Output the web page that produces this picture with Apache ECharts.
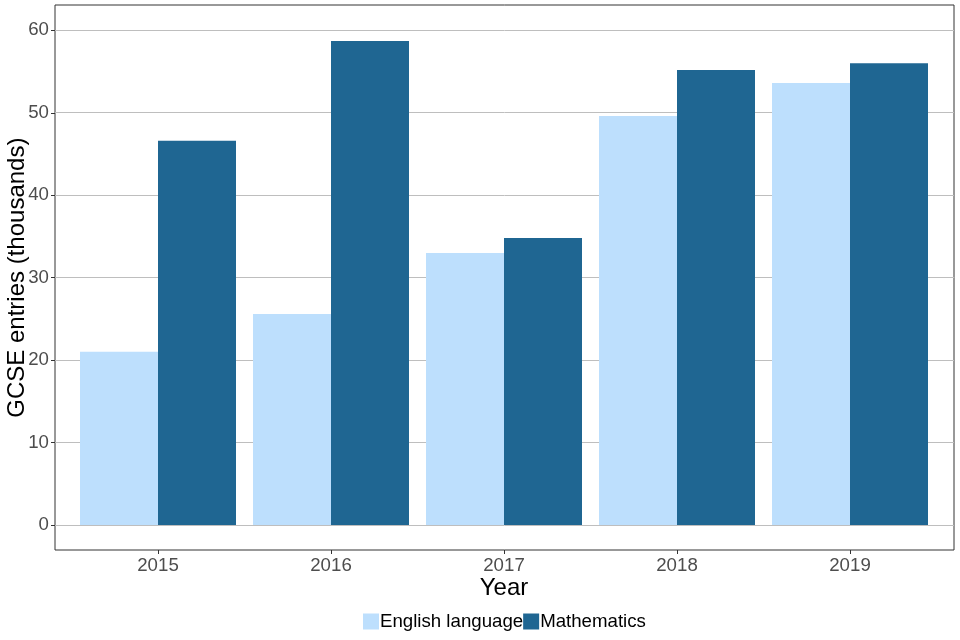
<!DOCTYPE html>
<html>
<head>
<meta charset="utf-8">
<script src="https://cdn.jsdelivr.net/npm/echarts@6/dist/echarts.min.js"></script>
<style>
html,body{margin:0;padding:0;background:#fff;}
#chart{width:960px;height:640px;}
</style>
</head>
<body>
<div id="chart"></div>
<script>
var years = ['2015', '2016', '2017', '2018', '2019'];
var english = [21.0, 25.6, 33.0, 49.6, 53.6];
var maths = [46.6, 58.7, 34.8, 55.2, 56.0];
var yTicks = [0, 10, 20, 30, 40, 50, 60];

var FONT = "'Liberation Sans', Arial, sans-serif";
var chart = echarts.init(document.getElementById('chart'), null, {renderer: 'canvas'});
chart.setOption({
  animation: false,
  backgroundColor: '#ffffff',
  textStyle: {fontFamily: FONT},
  legend: {
    data: ['English language', 'Mathematics'],
    left: 363, top: 612, padding: 0,
    itemWidth: 16, itemHeight: 16, itemGap: 0,
    icon: 'rect',
    textStyle: {fontFamily: FONT, fontSize: 18.67, color: '#000', padding: [0, 0, 0, -4]}
  },
  grid: [
    {left: 55, top: 5, right: 6, bottom: 90, show: true, borderColor: '#333333', borderWidth: 1, backgroundColor: 'transparent', containLabel: false, outerBoundsMode: 'none'},
    {left: 55, top: 30.3, right: 6, bottom: 115, containLabel: false, outerBoundsMode: 'none'},
    {left: 71.5, top: 5, right: 23.5, bottom: 90, containLabel: false, outerBoundsMode: 'none'}
  ],
  xAxis: [
    {gridIndex: 0, type: 'value', show: false},
    {gridIndex: 1, type: 'value', show: false, min: 0, max: 1},
    {gridIndex: 2, type: 'category', data: years, position: 'bottom',
     axisLine: {show: false, onZero: false},
     axisTick: {show: true, alignWithLabel: true, length: 4, lineStyle: {color: '#333333'}},
     axisLabel: {fontFamily: FONT, fontSize: 18.67, color: '#4d4d4d', margin: 6},
     name: 'Year', nameLocation: 'middle', nameGap: 26, nameMoveOverlap: false,
     nameTextStyle: {fontFamily: FONT, fontSize: 24, color: '#000'}}
  ],
  yAxis: [
    {gridIndex: 0, type: 'value', show: false},
    {gridIndex: 1, type: 'value', position: 'left', min: yTicks[0], max: yTicks[yTicks.length - 1], interval: 10,
     axisLine: {show: false, onZero: false},
     axisTick: {show: true, length: 4, lineStyle: {color: '#333333'}},
     splitLine: {show: true, lineStyle: {color: '#bebebe', width: 1}},
     axisLabel: {fontFamily: FONT, fontSize: 18.67, color: '#4d4d4d', margin: 6},
     name: 'GCSE entries (thousands)', nameLocation: 'middle', nameGap: 26, nameRotate: 90, nameMoveOverlap: false,
     nameTextStyle: {fontFamily: FONT, fontSize: 24, color: '#000'}},
    {gridIndex: 2, type: 'value', min: -3.03, max: 63.07, show: false}
  ],
  series: [
    {name: 'English language', type: 'bar', xAxisIndex: 2, yAxisIndex: 2, data: english,
     barWidth: 78, barGap: '0%', itemStyle: {color: '#BDDFFD'}},
    {name: 'Mathematics', type: 'bar', xAxisIndex: 2, yAxisIndex: 2, data: maths,
     barWidth: 78, barGap: '0%', itemStyle: {color: '#1F6692'}}
  ]
});
</script>
</body>
</html>
